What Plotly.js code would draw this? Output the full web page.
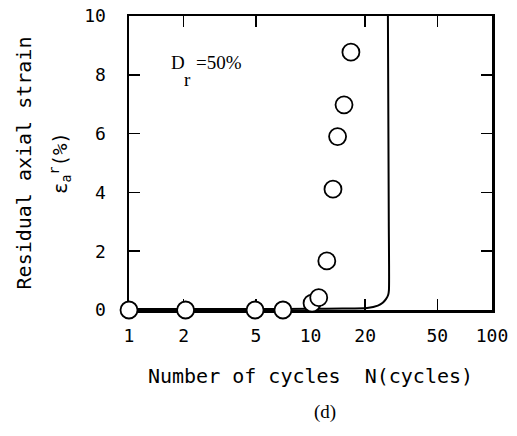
<!DOCTYPE html>
<html>
<head>
<meta charset="utf-8">
<script src="https://cdn.plot.ly/plotly-3.0.1.min.js"></script>
<style>
  html, body { margin: 0; padding: 0; background: #fff; }
  #chart { width: 517px; height: 436px; }
</style>
</head>
<body>
<div id="chart"></div>
<script>
// Measured cycles and residual axial strain (Dr = 50%)
const cycles = [1, 2.05, 4.95, 7.05, 10.2, 11.1, 12.3, 13.3, 14.1, 15.3, 16.7];
const strain = [0, 0, 0, 0, 0.23, 0.42, 1.67, 4.11, 5.90, 6.98, 8.77];

// Predicted strain curve
const curveCycles = [1, 5, 10, 15, 20.5, 23.5, 25.0, 26.1, 26.8, 27.05, 27.0, 26.7];
const curveStrain = [0.03, 0.035, 0.04, 0.05, 0.07, 0.15, 0.25, 0.38, 0.52, 0.68, 3.0, 10];

// Axis ticks
const xTickMarks = [2, 5, 20, 50];
const xTickVals = [1, 2, 5, 10, 20, 50, 100];
const xTickText = ['1', '2', '5', '10', '20', '50', '100'];
const yTickVals = [0, 2, 4, 6, 8, 10];
const yTickText = ['0', '2', '4', '6', '8', '10'];

const mono = 'DejaVu Sans Mono, monospace';
const serif = 'Liberation Serif, serif';

const traces = [
  {
    x: curveCycles, y: curveStrain,
    xaxis: 'x', yaxis: 'y',
    mode: 'lines',
    line: { color: '#000', width: 2, shape: 'spline', smoothing: 0.6 },
    cliponaxis: false,
    hoverinfo: 'skip'
  },
  {
    x: cycles, y: strain,
    xaxis: 'x2', yaxis: 'y',
    mode: 'markers',
    marker: { symbol: 'circle', size: 17, color: '#fff', line: { color: '#000', width: 1.8 } },
    cliponaxis: false
  }
];

const layout = {
  width: 517, height: 436,
  margin: { l: 129, r: 25, t: 16, b: 126 },
  paper_bgcolor: '#fff', plot_bgcolor: '#fff',
  showlegend: false,
  font: { family: mono, color: '#000', size: 18 },
  xaxis: {
    type: 'log', range: [0, 2],
    showline: true, linecolor: '#000', linewidth: 2.5, mirror: 'ticks',
    ticks: 'inside', ticklen: 11, tickwidth: 1.5, tickcolor: '#000',
    tickvals: xTickMarks, showticklabels: false,
    showgrid: false, zeroline: false, layer: 'below traces', fixedrange: true
  },
  xaxis2: {
    type: 'log', range: [0, 2], overlaying: 'x', side: 'bottom',
    showline: false, ticks: '', showgrid: false, zeroline: false,
    tickvals: xTickVals, ticktext: xTickText,
    tickfont: { family: mono, size: 18 },
    ticklabelstandoff: 13,
    title: { text: 'Number of cycles\u00a0\u00a0N(cycles)', font: { family: mono, size: 20 }, standoff: 23 },
    layer: 'below traces', fixedrange: true
  },
  yaxis: {
    range: [0, 10],
    showline: true, linecolor: '#000', linewidth: 2.5, mirror: 'ticks',
    ticks: 'inside', ticklen: 11, tickwidth: 1.5, tickcolor: '#000',
    tickvals: yTickVals, ticktext: yTickText,
    tickfont: { family: mono, size: 18 },
    ticklabelstandoff: 17,
    showgrid: false, zeroline: false, layer: 'below traces', fixedrange: true,
    title: { text: 'Residual axial strain', font: { family: mono, size: 20 }, standoff: 47 }
  },
  annotations: [
    { xref: 'paper', yref: 'paper', x: 0, y: 0.5, xshift: -69, xanchor: 'center', yanchor: 'middle',
      textangle: -90, showarrow: false, text: '\u03b5<sub>a</sub><sup>r</sup>(%)', font: { family: mono, size: 19 } },
    { xref: 'paper', yref: 'paper', x: 0.134, y: 0.8415, xanchor: 'center', yanchor: 'middle',
      showarrow: false, text: 'D', font: { family: serif, size: 19 } },
    { xref: 'paper', yref: 'paper', x: 0.160, y: 0.783, xanchor: 'center', yanchor: 'middle',
      showarrow: false, text: 'r', font: { family: serif, size: 19 } },
    { xref: 'paper', yref: 'paper', x: 0.248, y: 0.8415, xanchor: 'center', yanchor: 'middle',
      showarrow: false, text: '=50%', font: { family: serif, size: 19 } },
    { xref: 'paper', yref: 'paper', x: 0.54, y: -0.3475, xanchor: 'center', yanchor: 'middle',
      showarrow: false, text: '(d)', font: { family: serif, size: 19 } }
  ]
};

Plotly.newPlot('chart', traces, layout, { displayModeBar: false, staticPlot: true });
</script>
</body>
</html>
